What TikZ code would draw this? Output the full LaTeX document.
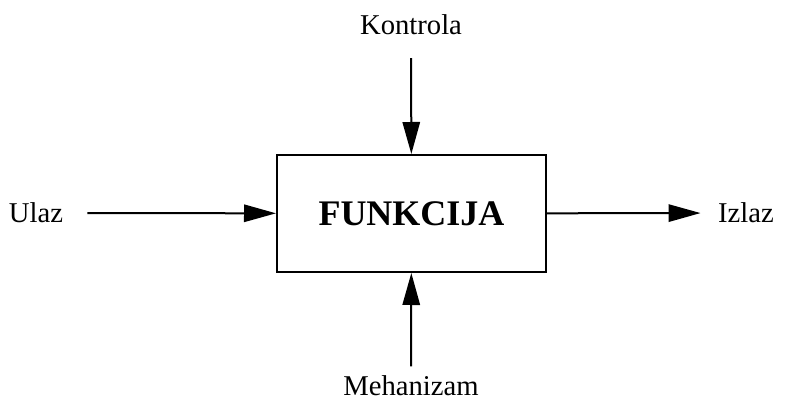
\documentclass[tikz,border=0pt]{standalone}
\usepackage{fontspec}
\setmainfont{Liberation Serif}
\usetikzlibrary{arrows.meta}

\begin{document}
\begin{tikzpicture}[x=0.75pt,y=-0.75pt,
    flow/.style={line width=1.5pt,-{Triangle[length=24pt,width=13pt]}},
    lbl/.style={font=\fontsize{21.5}{26}\selectfont,inner sep=0pt}]
    \useasboundingbox (0,0) rectangle (785,409);
    % the function box
    \node[draw,line width=1.5pt,minimum width=201.75pt,minimum height=87.75pt,
        inner sep=0pt,font=\fontsize{27}{32}\selectfont\bfseries] (func) at (411.5,213.5) {FUNKCIJA};
    % labels round it
    \node[lbl] (kontrola) at (411,25) {Kontrola};
    \node[lbl] (ulaz) at (36,213) {Ulaz};
    \node[lbl] (izlaz) at (746,213) {Izlaz};
    \node[lbl] (mehanizam) at (411,386) {Mehanizam};
    % arrows
    \draw[flow,shorten <=17pt] (kontrola) -- (func);
    \draw[flow,shorten <=18pt] (ulaz) -- (func);
    \draw[flow,shorten >=13pt] (func) -- (izlaz);
    \draw[flow,shorten <=7pt] (mehanizam) -- (func);
\end{tikzpicture}
\end{document}
